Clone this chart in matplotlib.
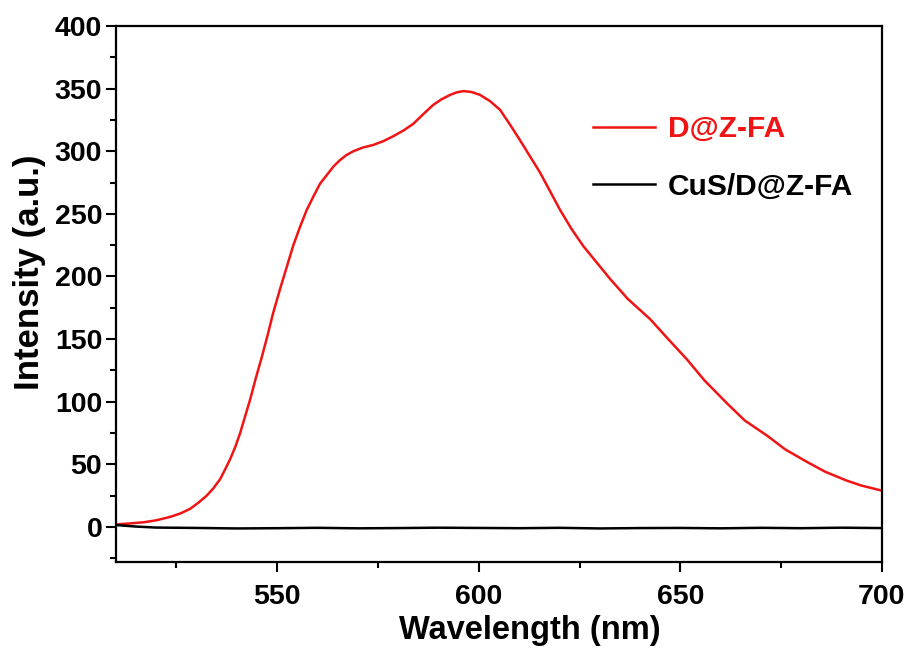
import matplotlib.pyplot as plt
from matplotlib.ticker import MultipleLocator

plt.rcParams["font.family"] = ["Liberation Sans", "DejaVu Sans"]
plt.rcParams["font.weight"] = "bold"

# D@Z-FA emission spectrum
wl_red = [510, 513, 516.8, 520, 523.4, 526, 528.4, 530.5, 532.5, 534.2,
          535.8, 537, 538.3, 539.6, 540.8, 542, 543.3, 544.7, 546.2, 547.6,
          549, 550.7, 552.4, 554, 555.7, 557.3, 559, 560.6, 562.3, 564,
          565.6, 567.2, 568.9, 571.3, 573.8, 576.3, 578.8, 581.3, 583.8, 586.2,
          588.7, 590.8, 592.9, 594.5, 596.2, 598.2, 600.3, 602.8, 605.3, 607.8,
          610.2, 612.7, 615.2, 617.7, 620.2, 623, 626, 629.3, 632.6, 637,
          642.5, 647, 651.6, 656, 661.5, 666, 671.5, 676, 681.4, 686,
          691.3, 695, 700]
int_red = [2, 2.7, 3.7, 5.3, 8, 10.8, 14.5, 19.5, 25, 31,
           38, 45.5, 54, 64, 75, 88, 102, 119, 136, 153,
           171, 190, 208, 225, 240, 253, 264, 274, 281, 288,
           293, 297, 300, 303, 305, 308, 312, 316.5, 322, 329.5,
           337, 341.5, 345, 347, 348, 347.3, 345, 340, 333, 321,
           309, 296, 283, 268, 253, 238, 224, 211, 198, 182,
           166, 150, 134, 117, 99, 85, 73, 62, 52, 44,
           37, 33, 29]

# CuS/D@Z-FA, essentially flat
wl_black = [510, 515, 520, 530, 540, 550, 560, 570, 580, 590, 600, 610, 620,
            630, 640, 650, 660, 670, 680, 690, 700]
int_black = [1.5, 0.3, -0.5, -0.8, -1.2, -1.0, -0.7, -1.1, -0.9, -0.6, -0.8,
             -1.0, -0.7, -1.2, -0.9, -0.8, -1.1, -0.7, -1.0, -0.6, -0.9]

fig = plt.figure(figsize=(9.1, 6.48), dpi=100)
ax = fig.add_axes([0.1275, 0.1327, 0.8415, 0.8272])

ax.plot(wl_red, int_red, color="#f01414", linewidth=1.8, label="D@Z-FA")
ax.plot(wl_black, int_black, color="black", linewidth=1.8, label="CuS/D@Z-FA")

ax.set_xlim(510, 700)
ax.set_ylim(-28, 400)
ax.xaxis.set_major_locator(MultipleLocator(50))
ax.xaxis.set_minor_locator(MultipleLocator(25))
ax.yaxis.set_major_locator(MultipleLocator(50))
ax.yaxis.set_minor_locator(MultipleLocator(25))

for s in ax.spines.values():
    s.set_linewidth(1.6)

ax.tick_params(which="major", direction="out", length=7, width=1.5, labelsize=20.5)
ax.tick_params(which="minor", direction="out", length=4, width=1.5)
ax.tick_params(axis="x", which="major", pad=9)
ax.tick_params(axis="y", which="major", pad=3)
ax.tick_params(top=False, right=False, which="both")

ax.set_xlabel("Wavelength (nm)", fontsize=23.5, fontweight="bold")
ax.xaxis.set_label_coords(0.54, -0.099)
ax.set_ylabel("Intensity (a.u.)", fontsize=25, fontweight="bold")
ax.yaxis.set_label_coords(-0.091, 0.541)

leg = ax.legend(loc="upper left", bbox_to_anchor=(0.588, 0.884), frameon=False,
                fontsize=21.5, handlelength=2.07, handletextpad=0.43, labelspacing=1.0)
for text, line in zip(leg.get_texts(), leg.get_lines()):
    text.set_color(line.get_color())
    line.set_linewidth(1.8)

fig.savefig("out.png", dpi=100)
